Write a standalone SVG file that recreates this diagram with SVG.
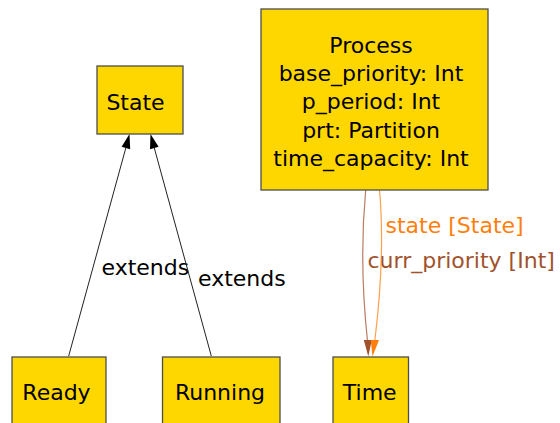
<svg xmlns="http://www.w3.org/2000/svg" width="560" height="423" viewBox="0 0 560 423">
  <style>
    .box { fill: #ffd700; stroke: #4d4d4d; stroke-width: 1.3; }
    text { font-family: "DejaVu Sans", "Liberation Sans", sans-serif; font-size: 22px; fill: #000; }
    .mid { text-anchor: middle; }
    .ext { fill: none; stroke: #222; stroke-width: 1; }
    .head { fill: #000; }
    .brown { fill: none; stroke: #a0522d; stroke-opacity: 0.75; stroke-width: 1.2; }
    .orange { fill: none; stroke: #ff7f0e; stroke-opacity: 0.75; stroke-width: 1.2; }
    .lbl-brown { fill: #a0522d; }
    .lbl-orange { fill: #ff7f0e; }
  </style>
  <rect width="560" height="423" fill="#ffffff"/>

  <g id="edges">
    <!-- Ready extends State -->
    <g id="e-ready-state">
      <line class="ext" x1="68.7" y1="356" x2="125.8" y2="148"/>
      <polygon class="head" points="129.5,134 121.6,146.8 130.2,149.2"/>
      <text x="101.5" y="275">extends</text>
    </g>
    <!-- Running extends State -->
    <g id="e-running-state">
      <line class="ext" x1="211.3" y1="356" x2="154.3" y2="148"/>
      <polygon class="head" points="150.5,134 150,149.2 158.6,146.8"/>
      <text x="198" y="286">extends</text>
    </g>
    <!-- Process.curr_priority -> Time -->
    <g id="e-process-time-curr">
      <path class="brown" d="M365.7,190 C361,240 362,290 367.5,341"/>
      <polygon points="368.3,356.5 363.8,340 371.8,340" fill="#a0522d"/>
      <text class="lbl-brown" x="367.5" y="268">curr_priority [Int]</text>
    </g>
    <!-- Process.state -> State (drawn to Time) -->
    <g id="e-process-time-state">
      <path class="orange" d="M379.5,190 C384,240 381,290 374.8,341"/>
      <polygon points="372.5,356.5 370.7,340 379,340" fill="#ff7f0e"/>
      <text class="lbl-orange" x="385.5" y="233">state [State]</text>
    </g>
  </g>

  <g id="State">
    <rect class="box" x="97" y="66" width="86" height="68"/>
    <text class="mid" x="135.5" y="110">State</text>
  </g>

  <g id="Process">
    <rect class="box" x="261" y="9" width="227" height="181"/>
    <text class="mid" x="371" y="52.7">Process</text>
    <text class="mid" x="371" y="81">base_priority: Int</text>
    <text class="mid" x="371" y="109.3">p_period: Int</text>
    <text class="mid" x="371" y="137.6">prt: Partition</text>
    <text class="mid" x="371" y="165.9">time_capacity: Int</text>
  </g>

  <g id="Ready">
    <rect class="box" x="12" y="357" width="94" height="80"/>
    <text class="mid" x="56.5" y="400">Ready</text>
  </g>

  <g id="Running">
    <rect class="box" x="162.5" y="357" width="117.5" height="80"/>
    <text class="mid" x="220" y="400">Running</text>
  </g>

  <g id="Time">
    <rect class="box" x="333" y="357" width="75.5" height="80"/>
    <text class="mid" x="369.7" y="400">Time</text>
  </g>
</svg>
